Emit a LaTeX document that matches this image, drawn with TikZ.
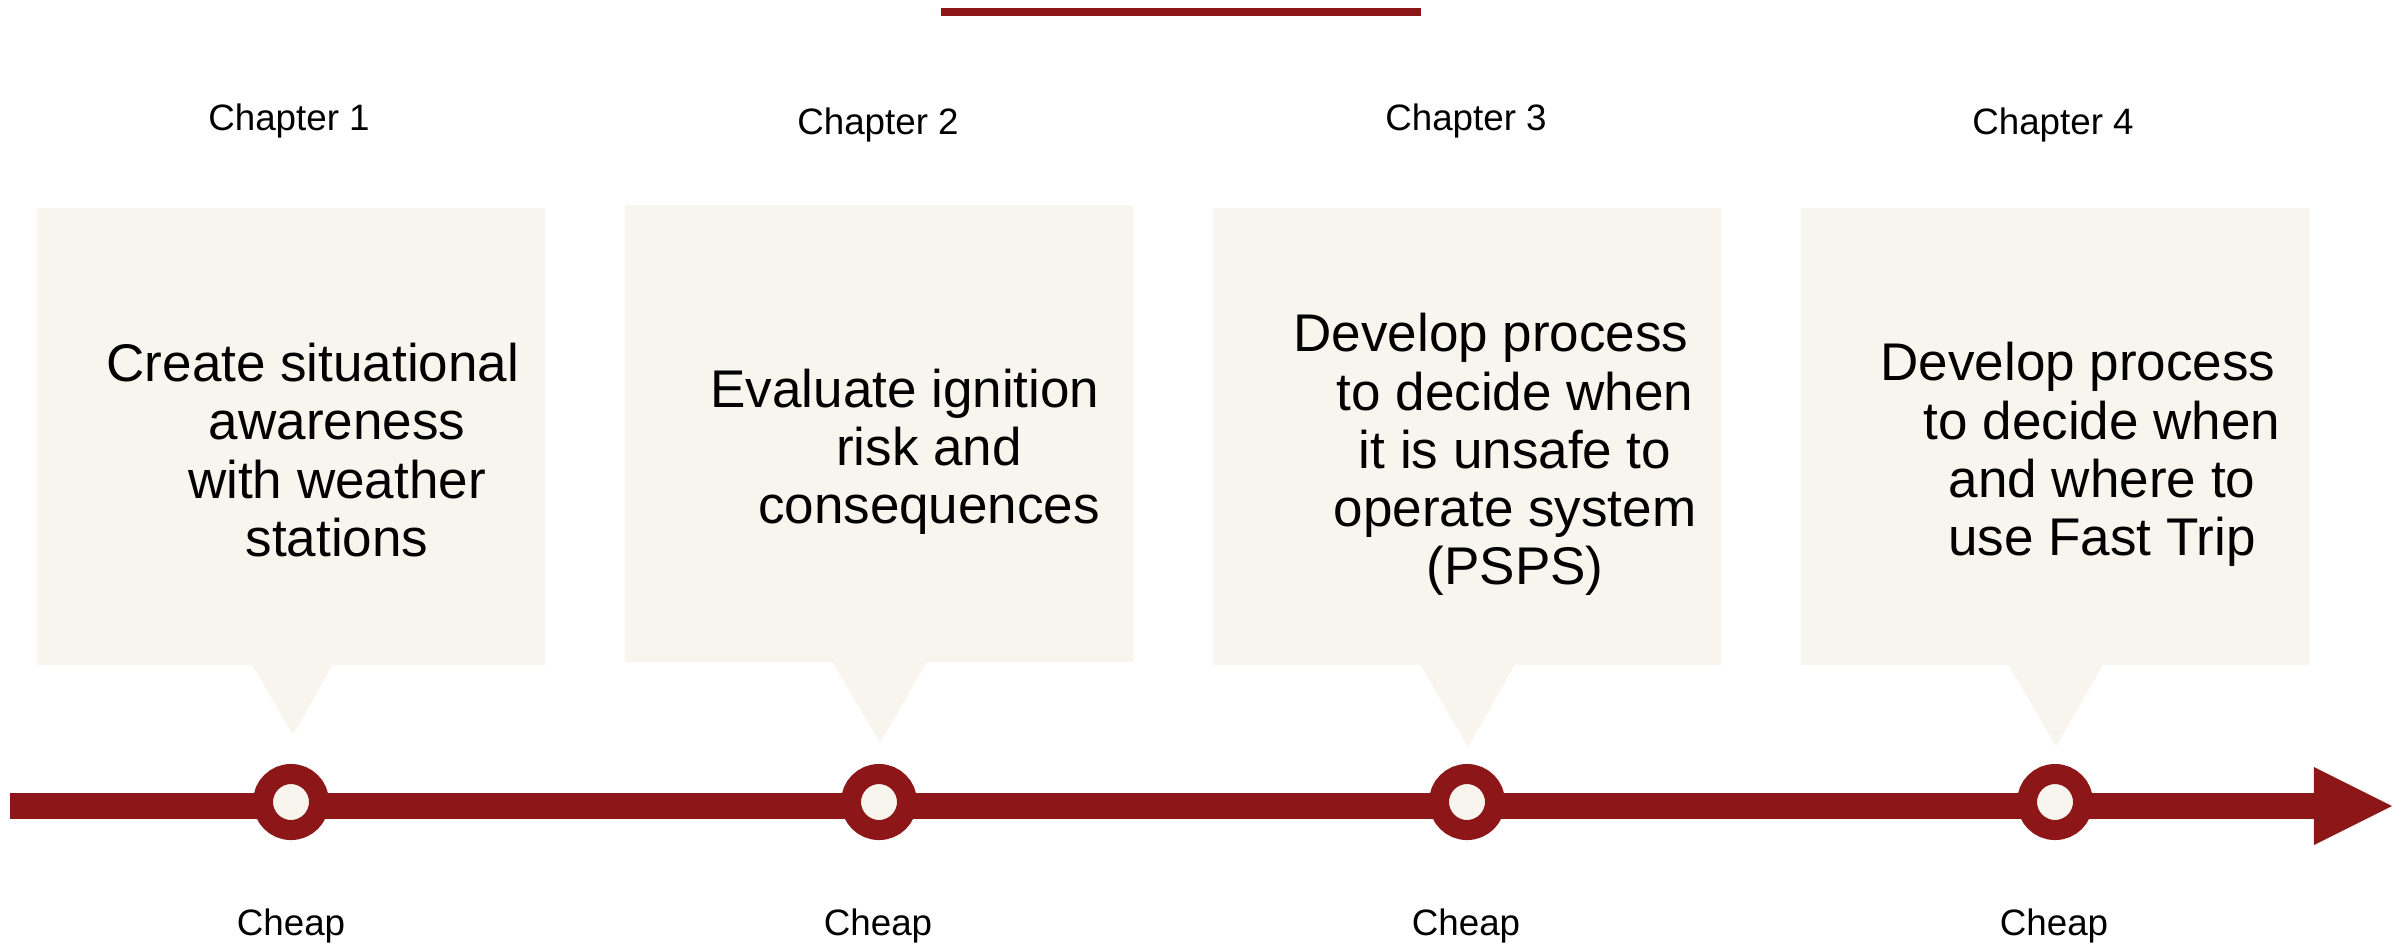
\documentclass[tikz,border=0pt]{standalone}
\usepackage{fontspec}
\setmainfont{Liberation Sans}
\usetikzlibrary{shapes.callouts,arrows.meta}
\definecolor{darkred}{RGB}{140,22,24}
\definecolor{cream}{RGB}{248,245,238}

\begin{document}
\begin{tikzpicture}[x=0.01cm,y=-0.01cm]

        \useasboundingbox (0,0) rectangle (2404,944);

        % rule at the top
        \fill[darkred] (941,8) rectangle (1421,16);

        \begin{scope}[every node/.style={rectangle callout,fill=cream,minimum width=5.08cm,minimum height=4.57cm,inner sep=0}]
          \node (b1) at (291,436.5)  [callout absolute pointer={(293,735)},callout pointer width=0.8cm] {};
          \node (b2) at (879,433.5)  [callout absolute pointer={(880,743)},callout pointer width=0.94cm] {};
          \node (b3) at (1467,436.5) [callout absolute pointer={(1468,747)},callout pointer width=0.94cm] {};
          \node (b4) at (2055,436.5) [callout absolute pointer={(2056,746)},callout pointer width=0.94cm] {};
        \end{scope}

        % time line
        \coordinate (start) at (10,806);
        \coordinate (end)   at (2392,806);
        \draw[darkred,line width=0.26cm,-{Triangle[length=0.78cm,width=0.78cm,line width=0pt]}] (start) -- (end);

        \begin{scope}[every node/.style={circle,draw=darkred,line width=0.2cm,fill=cream,minimum size=0.56cm,inner sep=0}]
          \node (c1) at (291,802)  {};
          \node (c2) at (879,802)  {};
          \node (c3) at (1467,802) {};
          \node (c4) at (2055,802) {};
        \end{scope}

        \begin{scope}[every node/.style={anchor=base,inner sep=0,font=\fontsize{10.45}{12}\selectfont}]
          \node (ch1) at (289,130)  {Chapter 1};
          \node (ch2) at (878,134)  {Chapter 2};
          \node (ch3) at (1466,130) {Chapter 3};
          \node (ch4) at (2053,134) {Chapter 4};
          \node (lab1) at (291,935)  {Cheap};
          \node (lab2) at (878,935)  {Cheap};
          \node (lab3) at (1466,935) {Cheap};
          \node (lab4) at (2054,935) {Cheap};
        \end{scope}

        \begin{scope}[every node/.style={align=center,inner sep=0,font=\fontsize{15.08}{16.55}\selectfont}]
          \node (t1) at (337,450)    {Create situational\hspace*{0.48cm}\\awareness\\with weather\\stations};
          \node (t2) at (929,451.5)  {Evaluate ignition\hspace*{0.48cm}\\risk and\\consequences};
          \node (t3) at (1515,454.5) {Develop process\hspace*{0.48cm}\\to decide when\\it is unsafe to\\operate system\\(PSPS)};
          \node (t4) at (2102,454.5) {Develop process\hspace*{0.48cm}\\to decide when\\and where to\\use Fast Trip};
        \end{scope}

      \end{tikzpicture}
\end{document}
